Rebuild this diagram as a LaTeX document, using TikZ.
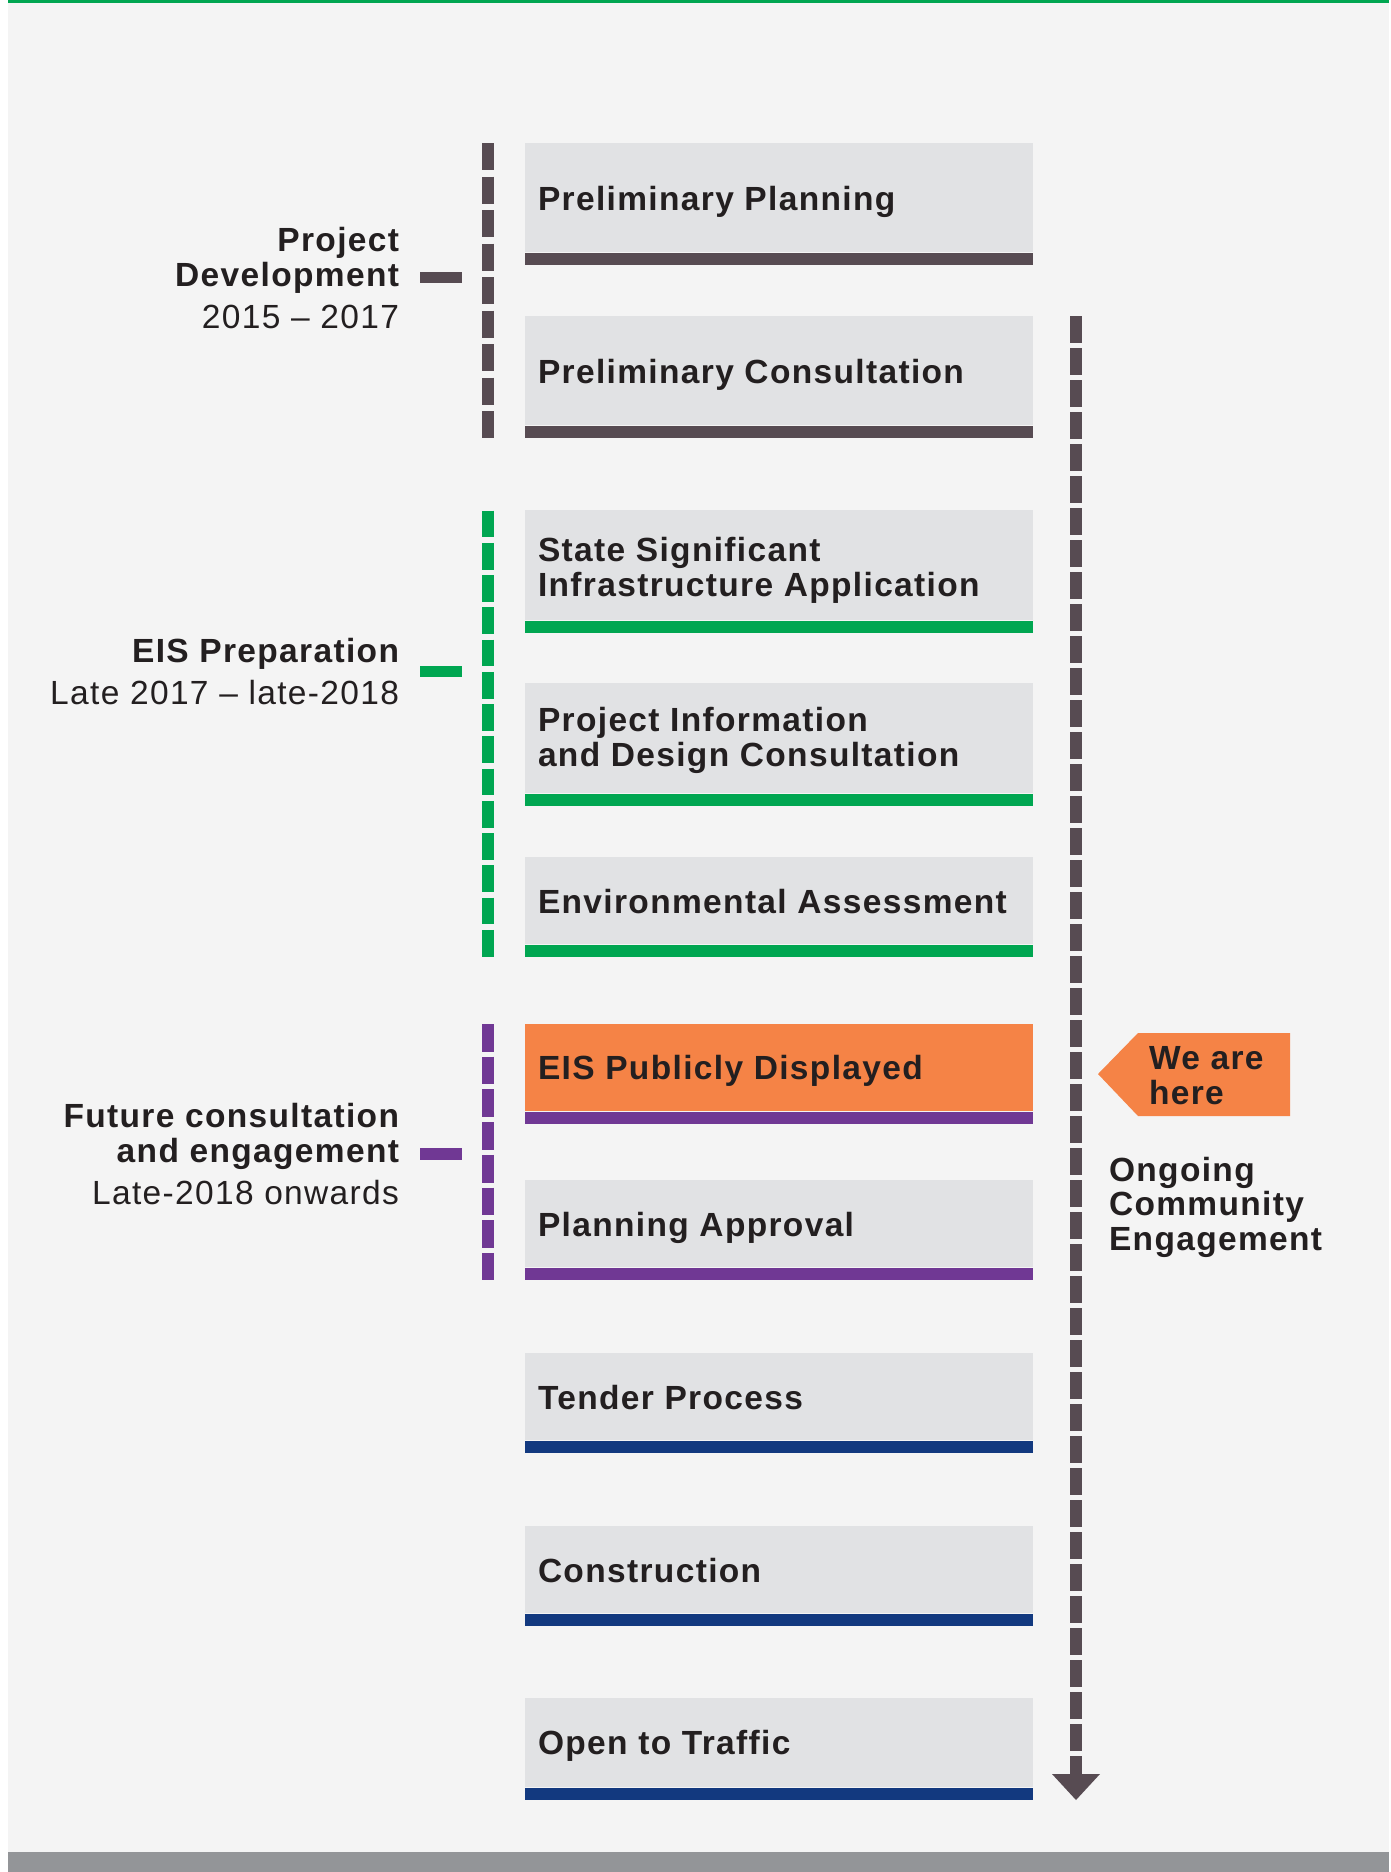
\documentclass[tikz,border=0pt]{standalone}
\usepackage{fontspec}
\setmainfont{Liberation Sans}[LetterSpace=4.0]
\definecolor{bg}{HTML}{F4F4F4}
\definecolor{boxgray}{HTML}{E1E2E4}
\definecolor{darkbar}{HTML}{574B52}
\definecolor{eisgreen}{HTML}{00A651}
\definecolor{purp}{HTML}{703894}
\definecolor{navy}{HTML}{12397F}
\definecolor{orng}{HTML}{F58346}
\definecolor{bandgray}{HTML}{939598}
\definecolor{txt}{HTML}{231F20}
\newcommand\bxf{\fontsize{33.5pt}{35pt}\selectfont\bfseries}
\newcommand\rgf{\fontsize{33.5pt}{35pt}\selectfont}
\begin{document}
\begin{tikzpicture}[x=1pt,y=-1pt,
  stagebox/.style={anchor=north west, inner sep=0pt, outer sep=0pt, draw=none, fill=boxgray, minimum width=508pt, minimum height=108.5pt},
  shortbox/.style={stagebox, minimum height=86.5pt},
  stagebar/.style={anchor=north west, inner sep=0pt, outer sep=0pt, draw=none, minimum width=508pt, minimum height=12pt},
  stagetext/.style={anchor=base west, inner sep=0pt, outer sep=0pt, text=txt, font=\bxf},
  lblb/.style={anchor=base east, inner sep=0pt, outer sep=0pt, text=txt, font=\bxf},
  lblr/.style={anchor=base east, inner sep=0pt, outer sep=0pt, text=txt, font=\rgf},
  phase/.style={line width=12pt},
  tick/.style={line width=11.5pt}
]
\useasboundingbox (0,0) rectangle (1391,1872);
\fill[white] (0,0) rectangle (1391,1872);
\fill[bg] (8,0) rectangle (1389,1852);
\fill[bandgray] (8,1852) rectangle (1389,1872);
\fill[eisgreen] (8,0) rectangle (1389,2.5);

% ---- stages ----
\node[stagebox] (s1) at (525,143) {};
\node[stagebar, fill=darkbar] (s1bar) at (525,253) {};
\node[stagetext] (s1t) at (538,210) {Preliminary Planning};

\node[stagebox] (s2) at (525,316) {};
\node[stagebar, fill=darkbar] (s2bar) at (525,426) {};
\node[stagetext] (s2t) at (538,383) {Preliminary Consultation};

\node[stagebox, minimum height=109.5pt] (s3) at (525,510) {};
\node[stagebar, fill=eisgreen] (s3bar) at (525,621) {};
\node[stagetext] (s3ta) at (538,561) {State Significant};
\node[stagetext] (s3tb) at (538,596) {Infrastructure Application};

\node[stagebox, minimum height=109.5pt] (s4) at (525,683) {};
\node[stagebar, fill=eisgreen] (s4bar) at (525,794) {};
\node[stagetext] (s4ta) at (538,731.7) {Project Information};
\node[stagetext] (s4tb) at (538,766.7) {and Design Consultation};

\node[shortbox] (s5) at (525,857) {};
\node[stagebar, fill=eisgreen] (s5bar) at (525,945) {};
\node[stagetext] (s5t) at (538,913) {Environmental Assessment};

\node[shortbox, fill=orng] (s6) at (525,1024) {};
\node[stagebar, fill=purp] (s6bar) at (525,1112) {};
\node[stagetext] (s6t) at (538,1079) {EIS Publicly Displayed};

\node[shortbox] (s7) at (525,1180) {};
\node[stagebar, fill=purp] (s7bar) at (525,1268) {};
\node[stagetext] (s7t) at (538,1236) {Planning Approval};

\node[shortbox] (s8) at (525,1353) {};
\node[stagebar, fill=navy] (s8bar) at (525,1441) {};
\node[stagetext] (s8t) at (538,1409) {Tender Process};

\node[shortbox] (s9) at (525,1526) {};
\node[stagebar, fill=navy] (s9bar) at (525,1614) {};
\node[stagetext] (s9t) at (538,1582) {Construction};

\node[shortbox, minimum height=88.5pt] (s10) at (525,1698) {};
\node[stagebar, fill=navy] (s10bar) at (525,1788) {};
\node[stagetext] (s10t) at (538,1754) {Open to Traffic};

% ---- phase brackets ----
\coordinate (pdTop) at (488,143);
\coordinate (pdBot) at (488,438);
\coordinate (epTop) at (488,510.7);
\coordinate (epBot) at (488,956.7);
\coordinate (fcTop) at (488,1024);
\coordinate (fcBot) at (488,1280);
\draw[phase, darkbar, dash pattern=on 27pt off 6.5pt] (pdTop) -- (pdBot);
\draw[phase, eisgreen, dash pattern=on 26.7pt off 5.55pt] (epTop) -- (epBot);
\draw[phase, purp, dash pattern=on 27.7pt off 5pt] (fcTop) -- (fcBot);

\coordinate (pdTickA) at (420,277.5);
\coordinate (pdTickB) at (462,277.5);
\coordinate (epTickA) at (420,671.5);
\coordinate (epTickB) at (462,671.5);
\coordinate (fcTickA) at (420,1154);
\coordinate (fcTickB) at (462,1154);
\draw[tick, darkbar] (pdTickA) -- (pdTickB);
\draw[tick, eisgreen] (epTickA) -- (epTickB);
\draw[tick, purp] (fcTickA) -- (fcTickB);

\node[lblb] (pdA) at (399,251) {Project};
\node[lblb] (pdB) at (399,286) {Development};
\node[lblr] (pdC) at (399,328) {2015 – 2017};

\node[lblb] (epA) at (399,662.7) {EIS Preparation};
\node[lblr] (epB) at (399,704.3) {Late 2017 – late-2018};

\node[lblb] (fcA) at (399,1127.7) {Future consultation};
\node[lblb] (fcB) at (399,1162.3) {and engagement};
\node[lblr] (fcC) at (399,1204) {Late-2018 onwards};

% ---- ongoing engagement arrow ----
\coordinate (ogTop) at (1076,316);
\coordinate (ogEnd) at (1076,1776);
\coordinate (ogTip) at (1076,1800);
\draw[phase, darkbar, dash pattern=on 27pt off 5pt] (ogTop) -- (ogEnd);
\fill[darkbar] (1052,1774) -- (1100,1774) -- (ogTip) -- cycle;

\node[stagetext] (ogA) at (1109,1181.7) {Ongoing};
\node[stagetext] (ogB) at (1109,1215.7) {Community};
\node[stagetext] (ogC) at (1109,1250.7) {Engagement};

% ---- we are here ----
\fill[orng] (1098,1074) -- (1138,1033) -- (1290,1033) -- (1290,1116) -- (1138,1116) -- cycle;
\node[stagetext] (hereA) at (1149,1069.3) {We are};
\node[stagetext] (hereB) at (1149,1104) {here};
\end{tikzpicture}
\end{document}
